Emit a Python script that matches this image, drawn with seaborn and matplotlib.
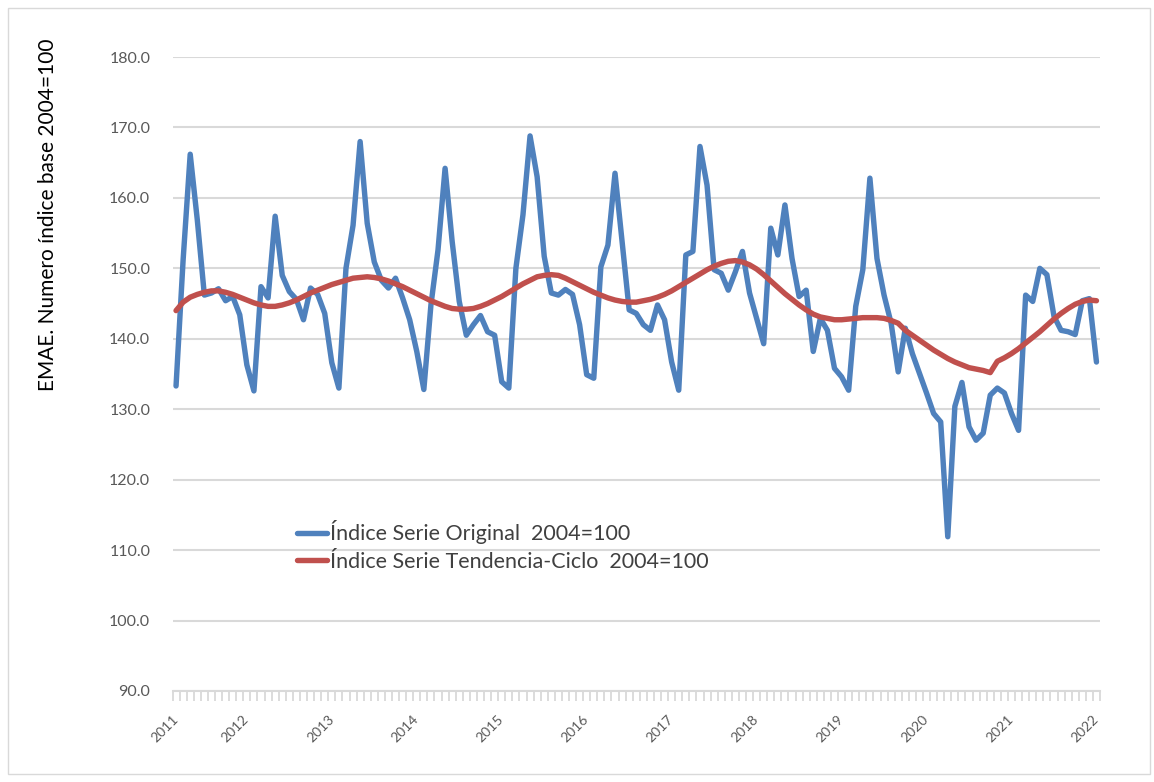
import numpy as np
import pandas as pd
import matplotlib
matplotlib.use("Agg")
import matplotlib.pyplot as plt
from matplotlib.lines import Line2D
from matplotlib.patches import Rectangle
import seaborn as sns

# ---------------- data (monthly, Mar-2011 .. Jan-2022) ----------------
start_month = "2011-03"
year_labels = ["2011", "2012", "2013", "2014", "2015", "2016",
               "2017", "2018", "2019", "2020", "2021", "2022"]

serie_original = [
    133.3, 151.2, 166.2, 156.9, 146.2, 146.5, 147.1, 145.4, 146.0, 143.4,
    136.3, 132.6, 147.4, 145.8, 157.4, 149.0, 146.7, 145.6, 142.7, 147.2,
    146.3, 143.6, 136.6, 133.0, 150.0, 156.1, 168.0, 156.4, 150.9, 148.3,
    147.2, 148.6, 145.8, 142.7, 138.2, 132.8, 144.8, 152.6, 164.2, 153.8,
    145.3, 140.5, 142.0, 143.3, 141.0, 140.5, 133.9, 133.0, 150.0, 157.6,
    168.8, 163.0, 151.7, 146.5, 146.2, 147.0, 146.3, 142.0, 134.9, 134.4,
    150.2, 153.3, 163.5, 153.8, 144.1, 143.6, 142.0, 141.2, 144.8, 142.7,
    136.7, 132.7, 151.9, 152.4, 167.3, 161.8, 149.8, 149.3, 146.9, 149.5,
    152.4, 146.5, 142.9, 139.3, 155.7, 151.9, 159.0, 151.4, 146.0, 146.9,
    138.2, 142.9, 141.2, 135.8, 134.6, 132.7, 144.6, 149.8, 162.8, 151.4,
    146.2, 142.2, 135.3, 141.5, 137.9, 135.1, 132.3, 129.4, 128.2, 111.9,
    130.4, 133.8, 127.5, 125.6, 126.6, 132.0, 133.0, 132.3, 129.4, 127.0,
    146.2, 145.3, 150.0, 149.1, 143.2, 141.2, 141.0, 140.6, 145.4, 145.7,
    136.7,
]

serie_tendencia = [
    144.0, 145.2, 145.9, 146.3, 146.6, 146.8, 146.8, 146.6, 146.3, 145.9,
    145.5, 145.1, 144.8, 144.6, 144.6, 144.8, 145.1, 145.5, 146.0, 146.5,
    146.9, 147.3, 147.7, 148.0, 148.3, 148.6, 148.7, 148.8, 148.7, 148.5,
    148.2, 147.8, 147.4, 146.9, 146.4, 145.9, 145.4, 145.0, 144.6, 144.3,
    144.2, 144.2, 144.3, 144.6, 145.0, 145.5, 146.0, 146.6, 147.2, 147.8,
    148.3, 148.8, 149.0, 149.1, 149.0, 148.6, 148.1, 147.6, 147.1, 146.6,
    146.2, 145.8, 145.5, 145.3, 145.2, 145.2, 145.4, 145.6, 145.9, 146.3,
    146.8, 147.4, 148.0, 148.6, 149.2, 149.8, 150.3, 150.7, 151.0, 151.1,
    150.9, 150.5, 149.9, 149.1, 148.2, 147.3, 146.4, 145.6, 144.8, 144.1,
    143.5, 143.1, 142.9, 142.7, 142.7, 142.8, 142.9, 143.0, 143.0, 143.0,
    142.9, 142.6, 142.2, 141.2, 140.5, 139.8, 139.1, 138.4, 137.8, 137.2,
    136.7, 136.3, 135.9, 135.7, 135.5, 135.2, 136.8, 137.3, 137.9, 138.6,
    139.4, 140.2, 141.0, 141.9, 142.8, 143.6, 144.3, 144.9, 145.3, 145.5,
    145.4,
]

name_orig = "Índice Serie Original  2004=100"
name_trend = "Índice Serie Tendencia-Ciclo  2004=100"
y_label = "EMAE. Numero índice base 2004=100"

# ---------------- build frame ----------------
months = pd.period_range(start_month, periods=len(serie_original), freq="M")
idx = np.arange(len(months))
df = pd.concat([
    pd.DataFrame({"i": idx, "valor": serie_original, "serie": name_orig}),
    pd.DataFrame({"i": idx, "valor": serie_tendencia, "serie": name_trend}),
])

# label positions: first point and every January
label_pos = [0] + [k for k, m in enumerate(months) if m.month == 1]

# ---------------- style ----------------
sns.set_theme(style="white")
plt.rcParams["font.family"] = ["Lato", "DejaVu Sans"]

W, H = 1154, 782
fig = plt.figure(figsize=(W / 100, H / 100), dpi=100)
fig.patch.set_facecolor("white")
ax = fig.add_axes([172.5 / W, 1 - 691 / H, 927.5 / W, 634 / H])

blue = "#4F81BD"
red = "#C0504D"
sns.lineplot(data=df, x="i", y="valor", hue="serie",
             hue_order=[name_orig, name_trend],
             palette={name_orig: blue, name_trend: red},
             linewidth=3.9, ax=ax, legend=False, sort=False)

ax.set_xlim(-0.5, len(idx) - 0.5)
ax.set_ylim(90, 180)
ax.set_xlabel("")
ax.set_ylabel("")

# y axis
yt = np.arange(90, 181, 10)
ax.set_yticks(yt)
ax.set_yticklabels([f"{v:.1f}" for v in yt])
ax.tick_params(axis="y", length=0, pad=16, labelsize=11.5, labelcolor="#595959")
ax.yaxis.grid(True, color="#d9d9d9", linewidth=1.5)
ax.set_axisbelow(True)

# x axis
ax.set_xticks(label_pos)
ax.set_xticklabels(year_labels, rotation=45, ha="right",
                   rotation_mode="anchor", va="center")
ax.set_xticks(np.arange(-0.5, len(idx), 1), minor=True)
ax.tick_params(axis="x", which="major", length=0, pad=19, labelsize=10,
               labelcolor="#595959")
ax.tick_params(axis="x", which="minor", length=7, width=1.3,
               color="#d9d9d9", direction="out", bottom=True)

for s in ["left", "right", "top"]:
    ax.spines[s].set_visible(False)
ax.spines["bottom"].set_color("#d9d9d9")
ax.spines["bottom"].set_linewidth(1.5)

# legend
handles = [Line2D([], [], color=blue, lw=3.9), Line2D([], [], color=red, lw=3.9)]
leg = fig.legend(handles, [name_orig, name_trend], loc="center left",
                 bbox_to_anchor=(297 / W, 1 - 546 / H), frameon=False,
                 fontsize=15.5, handlelength=1.4, handletextpad=0.15,
                 borderpad=0, borderaxespad=0, labelspacing=0.33)
for t in leg.get_texts():
    t.set_color("#404040")

# y label
fig.text(48 / W, 1 - 215 / H, y_label, rotation=90, ha="center", va="center",
         fontsize=15, color="black")

# chart border
fig.patches.append(Rectangle((8 / W, 8 / H), 1142 / W, 766 / H,
                             transform=fig.transFigure, fill=False,
                             edgecolor="#d9d9d9", linewidth=1.0))

fig.savefig("out.png", dpi=100)
